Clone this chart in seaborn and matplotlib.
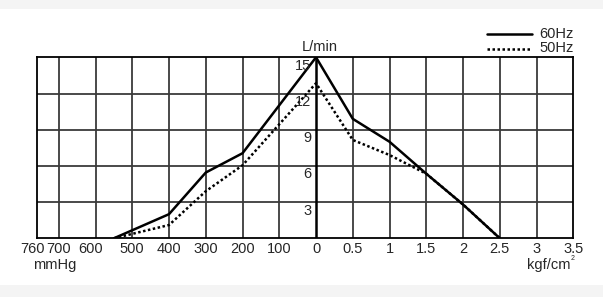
import matplotlib
matplotlib.use("Agg")
import matplotlib.pyplot as plt
import seaborn as sns
import pandas as pd
from matplotlib.patches import Rectangle
from matplotlib.transforms import ScaledTranslation

# ---- data ----
vac_mmhg = [550, 400, 300, 200, 0]          # vacuum side (mmHg)
pres_kgf = [0, 0.5, 1.0, 1.5, 2.0, 2.5]     # pressure side (kgf/cm2)
flow60_vac = [0, 2.0, 5.45, 7.05, 15.0]
flow60_pres = [15.0, 9.9, 8.0, 5.35, 2.8, 0]
flow50_vac = [0, 1.1, 3.9, 6.05, 12.85]
flow50_pres = [12.85, 8.15, 6.9, 5.35, 2.8, 0]
series = ["60Hz", "50Hz"]

vac_ticks = [760, 700, 600, 500, 400, 300, 200, 100]
pres_ticks = [0, 0.5, 1, 1.5, 2, 2.5, 3, 3.5]
y_ticks = [3, 6, 9, 12, 15]

# unified horizontal scale: vacuum mmHg/100 to the left, pressure kgf*2 to the right
def vx(m):
    return -m / 100.0

def px(k):
    return k * 2.0

rows = []
for name, fv, fp in [("60Hz", flow60_vac, flow60_pres), ("50Hz", flow50_vac, flow50_pres)]:
    for m, f in zip(vac_mmhg, fv):
        rows.append({"x": vx(m), "flow": f, "series": name})
    for k, f in zip(pres_kgf[1:], fp[1:]):
        rows.append({"x": px(k), "flow": f, "series": name})
df = pd.DataFrame(rows)

sns.set_theme(style="white")
plt.rcParams["font.family"] = ["Liberation Sans", "DejaVu Sans"]

fig = plt.figure(figsize=(6.03, 2.97), dpi=100)
fig.patch.set_facecolor("white")
fig.patches.append(Rectangle((0, 1 - 9 / 297), 1, 9 / 297, transform=fig.transFigure,
                             facecolor="#f4f4f4", edgecolor="none", zorder=-10))
fig.patches.append(Rectangle((0, 0), 1, 12 / 297, transform=fig.transFigure,
                             facecolor="#f4f4f4", edgecolor="none", zorder=-10))

W, H = 603, 297
left, right, top, bottom = 36.7, 573.3, 57.3, 238.3
ax = fig.add_axes([left / W, 1 - bottom / H, (right - left) / W, (bottom - top) / H])

xmin, xmax = vx(760), px(3.5)
ax.set_xlim(xmin, xmax)
ax.set_ylim(0, 15)

# grid
grid_x = [vx(m) for m in vac_ticks[1:]] + [px(k) for k in pres_ticks[1:-1]]
for gx in grid_x:
    ax.axvline(gx, color="#3a3a3a", lw=1.3, zorder=1)
for gy in y_ticks[:-1]:
    ax.axhline(gy, color="#3a3a3a", lw=1.3, zorder=1)
ax.axvline(0, color="black", lw=1.8, zorder=2)
for s in ax.spines.values():
    s.set_color("black")
    s.set_linewidth(1.3)
    s.set_visible(True)

sns.lineplot(data=df, x="x", y="flow", hue="series", style="series",
             hue_order=series, style_order=series,
             palette={"60Hz": "black", "50Hz": "black"},
             dashes={"60Hz": "", "50Hz": (1, 1)},
             linewidth=1.8, sort=False, estimator=None, legend=False, ax=ax, zorder=3)

# x tick labels
xt = [vx(m) for m in vac_ticks] + [px(k) for k in pres_ticks]
xl = [str(m) for m in vac_ticks] + [("%g" % k) for k in pres_ticks]
ax.set_xticks(xt)
ax.set_xticklabels(xl, fontsize=10.5)
ax.tick_params(axis="x", length=0, pad=2.5)
ax.set_yticks([])
ax.set_xlabel("")
ax.set_ylabel("")
lbls = ax.get_xticklabels()
lbls[0].set_horizontalalignment("right")
lbls[0].set_transform(lbls[0].get_transform() + ScaledTranslation(8 / 100, 0, fig.dpi_scale_trans))
lbls[2].set_transform(lbls[2].get_transform() + ScaledTranslation(-5 / 100, 0, fig.dpi_scale_trans))

# y labels inside, left of the zero line
for yv in y_ticks:
    ax.text(-0.12, yv - 0.12, str(yv), ha="right", va="top", fontsize=10.5, zorder=4)
ax.text(0.1, 15.25, "L/min", ha="center", va="bottom", fontsize=10.5)

fig.text(55 / W, 1 - 265 / H, "mmHg", ha="center", va="center", fontsize=10.5)
fig.text(570 / W, 1 - 265 / H, "kgf/cm", ha="right", va="center", fontsize=10.5)
fig.text(570.5 / W, 1 - 259 / H, "2", ha="left", va="center", fontsize=5)

# legend
fig.add_artist(plt.Line2D([486.7 / W, 531.7 / W], [1 - 34.3 / H, 1 - 34.3 / H], color="black", lw=1.8))
fig.add_artist(plt.Line2D([486.7 / W, 531.7 / W], [1 - 49.0 / H, 1 - 49.0 / H], color="black", lw=1.8,
                          dashes=(1, 1)))
fig.text(539 / W, 1 - 33.5 / H, "60Hz", ha="left", va="center", fontsize=10.5)
fig.text(539 / W, 1 - 47.5 / H, "50Hz", ha="left", va="center", fontsize=10.5)

fig.savefig("out.png", dpi=100, facecolor=fig.get_facecolor())
